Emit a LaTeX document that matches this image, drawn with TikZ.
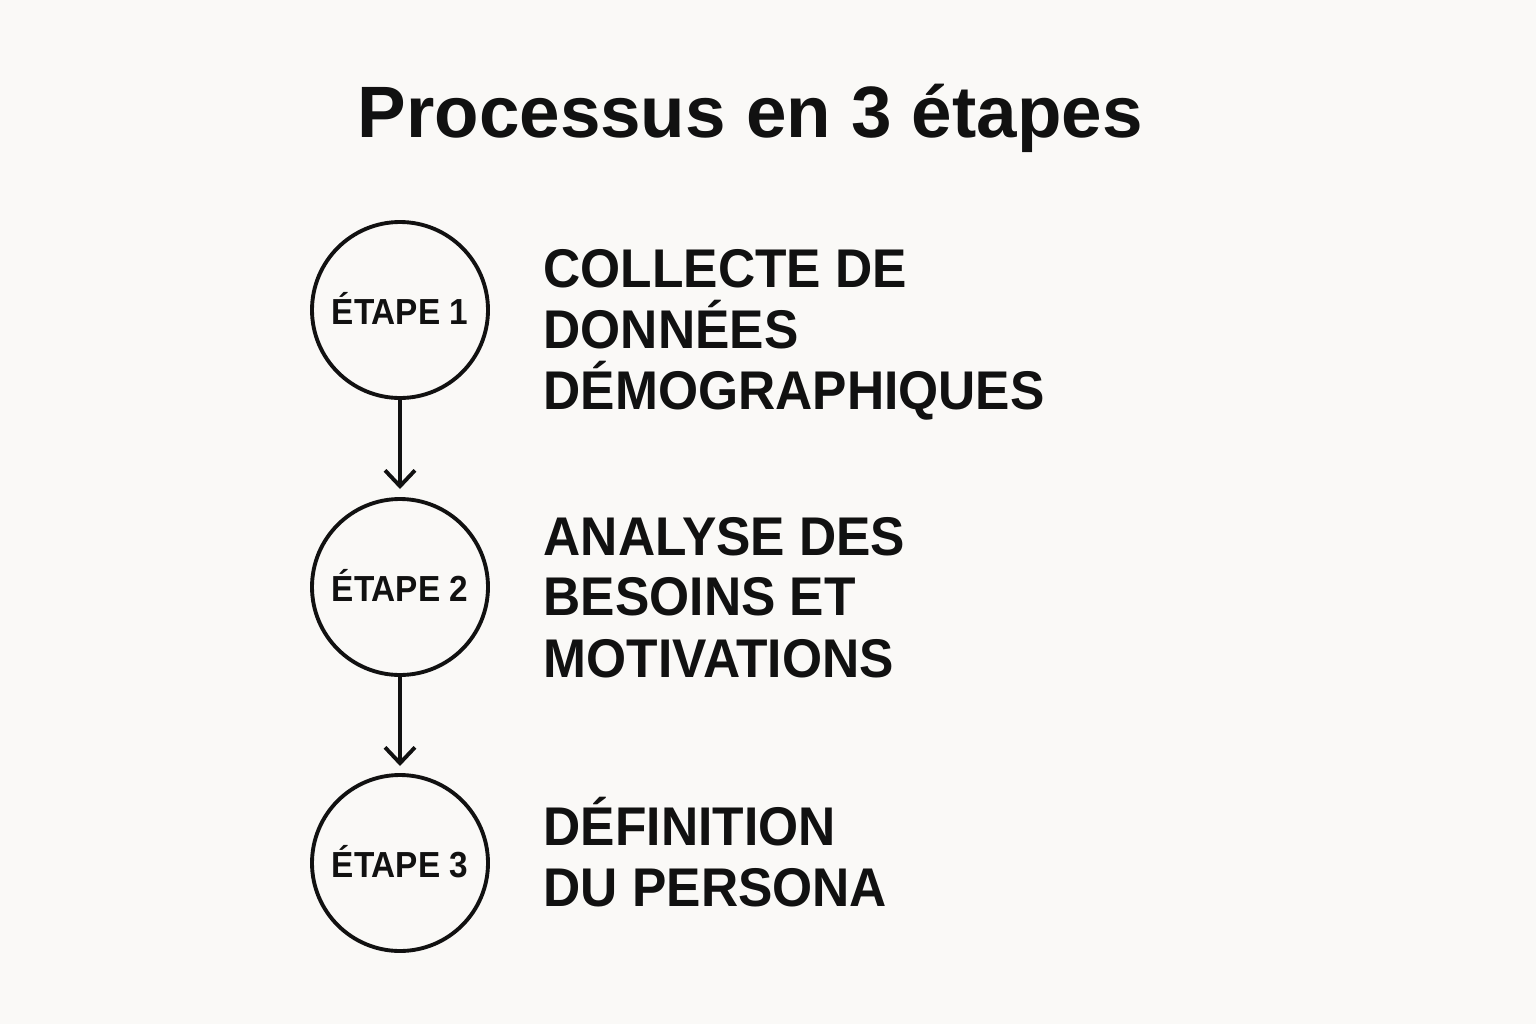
\documentclass[tikz,border=0pt]{standalone}
\usepackage{fontspec}
\setmainfont{Liberation Sans}
\usetikzlibrary{arrows.meta}
\definecolor{bg}{HTML}{FAF9F7}
\definecolor{ink}{HTML}{111111}
\newcommand{\narrow}[1]{\scalebox{0.945}[1]{#1}}
\begin{document}
\begin{tikzpicture}[x=0.01cm,y=-0.01cm,
  stepcircle/.style={circle,draw=ink,line width=1.1pt,minimum size=176*0.01cm,inner sep=0pt,
    font=\fontsize{10.3}{12}\selectfont\bfseries,text=ink},
  steptext/.style={anchor=base west,inner sep=0pt,font=\fontsize{15.5}{17.4}\selectfont\bfseries,text=ink},
  flow/.style={draw=ink,line width=1.1pt,-{Straight Barb[length=4.5pt,width=8.5pt,line width=1.1pt]}}]
\fill[bg] (0,0) rectangle (1536,1024);
\useasboundingbox (0,0) rectangle (1536,1024);
\node[anchor=base west,inner sep=0pt,font=\fontsize{20.7}{24}\selectfont\bfseries,text=ink] (title) at (357,137) {Processus en 3 étapes};
\node[stepcircle] (c1) at (400,310) {\raisebox{1pt}{\scalebox{0.92}[1]{ÉTAPE 1}}};
\node[stepcircle] (c2) at (400,587) {\raisebox{1pt}{\scalebox{0.92}[1]{ÉTAPE 2}}};
\node[stepcircle] (c3) at (400,863) {\raisebox{1pt}{\scalebox{0.92}[1]{ÉTAPE 3}}};
\coordinate (a1) at (400,489);
\coordinate (a2) at (400,766);
\draw[flow] (c1.south) -- (a1);
\draw[flow] (c2.south) -- (a2);
\node[steptext] (t1a) at (543,287) {\narrow{COLLECTE DE}};
\node[steptext] (t1b) at (543,348) {\narrow{DONNÉES}};
\node[steptext] (t1c) at (543,409) {\narrow{DÉMOGRAPHIQUES}};
\node[steptext] (t2a) at (543,555) {\narrow{ANALYSE DES}};
\node[steptext] (t2b) at (543,615) {\narrow{BESOINS ET}};
\node[steptext] (t2c) at (543,677) {\narrow{MOTIVATIONS}};
\node[steptext] (t3a) at (543,845) {\narrow{DÉFINITION}};
\node[steptext] (t3b) at (543,906) {\narrow{DU PERSONA}};
\end{tikzpicture}
\end{document}
